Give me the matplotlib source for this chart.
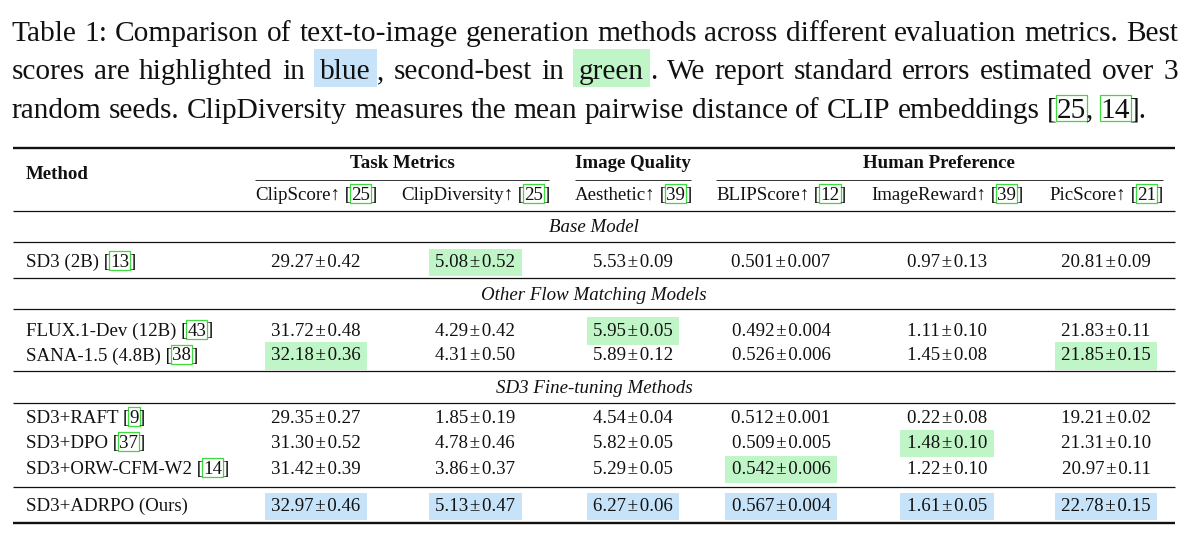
import matplotlib
matplotlib.use("Agg")
import matplotlib.pyplot as plt
from matplotlib.patches import Rectangle

SERIF = ["Liberation Serif", "DejaVu Serif"]
BLUE = "#c6e3fa"
GREEN = "#c0f5c8"
LINK = "#3cdc3c"
INK = "#111111"

# ---- data ----
caption_1 = "Table 1: Comparison of text-to-image generation methods across different evaluation metrics. Best"
caption_2a = "scores are highlighted in"
caption_2b = "second-best in"
caption_2c = "We report standard errors estimated over 3"
caption_3 = "random seeds. ClipDiversity measures the mean pairwise distance of CLIP embeddings"
caption_cites = ["25", "14"]

group_names = ["Task Metrics", "Image Quality", "Human Preference"]
group_cols = [(0, 1), (2, 2), (3, 5)]
metric_names = ["ClipScore\u2191", "ClipDiversity\u2191", "Aesthetic\u2191",
                "BLIPScore\u2191", "ImageReward\u2191", "PicScore\u2191"]
metric_cites = ["25", "25", "39", "12", "39", "21"]
metric_decimals = [2, 2, 2, 3, 2, 2]

section_names = ["Base Model", "Other Flow Matching Models", "SD3 Fine-tuning Methods"]
methods = ["SD3 (2B)", "FLUX.1-Dev (12B)", "SANA-1.5 (4.8B)", "SD3+RAFT",
           "SD3+DPO", "SD3+ORW-CFM-W2", "SD3+ADRPO (Ours)"]
method_cites = ["13", "43", "38", "9", "37", "14", None]
means = [
    [29.27, 5.08, 5.53, 0.501, 0.97, 20.81],
    [31.72, 4.29, 5.95, 0.492, 1.11, 21.83],
    [32.18, 4.31, 5.89, 0.526, 1.45, 21.85],
    [29.35, 1.85, 4.54, 0.512, 0.22, 19.21],
    [31.30, 4.78, 5.82, 0.509, 1.48, 21.31],
    [31.42, 3.86, 5.29, 0.542, 1.22, 20.97],
    [32.97, 5.13, 6.27, 0.567, 1.61, 22.78],
]
errs = [
    [0.42, 0.52, 0.09, 0.007, 0.13, 0.09],
    [0.48, 0.42, 0.05, 0.004, 0.10, 0.11],
    [0.36, 0.50, 0.12, 0.006, 0.08, 0.15],
    [0.27, 0.19, 0.04, 0.001, 0.08, 0.02],
    [0.52, 0.46, 0.05, 0.005, 0.10, 0.10],
    [0.39, 0.37, 0.05, 0.006, 0.10, 0.11],
    [0.46, 0.47, 0.06, 0.004, 0.05, 0.15],
]

# ---- layout (pixels) ----
CAP_SIZE = 21.2
TAB_SIZE = 13.6
cap_left, cap_right = 11.5, 1178
cap_base = [40.7, 79.3, 117.5]
tab_left, tab_right = 13.3, 1175
method_x = 26
col_x = [316, 475, 633, 781, 947, 1106]
group_base, cmid_y, sub_base, method_base = 168, 179.5, 200, 179
section_base = [232, 299.5, 393]
row_base = [267, 335.5, 360.5, 423, 448, 474, 511]
thin_rules = [210.7, 241.7, 277.7, 309.3, 370.7, 402.7, 486.7]
thick_rules = [147.5, 523.3]

fig = plt.figure(figsize=(12, 5.5), dpi=100)
ax = fig.add_axes([0, 0, 1, 1])
ax.set_xlim(0, 1200)
ax.set_ylim(550, 0)
ax.axis("off")
renderer = fig.canvas.get_renderer()


def width(s, size, **kw):
    t = ax.text(0, 0, s, fontsize=size, family=SERIF, **kw)
    w = t.get_window_extent(renderer).width
    t.remove()
    return w


def run_width(runs, size, pad, **kw):
    total = 0
    for s, kind in runs:
        total += width(s, size, **kw)
        if kind in ("blue", "green"):
            total += 2 * pad
    return total


def draw_runs(x, y, runs, size, pad, box, cbox, **kw):
    # box = (above, below) baseline for fills, cbox for link frames
    for s, kind in runs:
        w = width(s, size, **kw)
        if kind in ("blue", "green"):
            ax.add_patch(Rectangle((x, y - box[0]), w + 2 * pad, box[0] + box[1],
                                   color=BLUE if kind == "blue" else GREEN, lw=0, zorder=1))
            x += pad
        ax.text(x, y, s, fontsize=size, family=SERIF, color=INK, va="baseline",
                ha="left", zorder=3, **kw)
        if kind == "cite":
            ax.add_patch(Rectangle((x - 1, y - cbox[0]), w + 2, cbox[0] + cbox[1],
                                   fill=False, ec=LINK, lw=0.9, zorder=2))
        x += w
        if kind in ("blue", "green"):
            x += pad
    return x


def cited(s, num):
    if num is None:
        return [(s, "txt")]
    return [(s + " [", "txt"), (num, "cite"), ("]", "txt")]


# ---- caption ----
def justify(words, y, size):
    ws = [run_width(r, size, 6) for r in words]
    gap = (cap_right - cap_left - sum(ws)) / (len(words) - 1)
    x = cap_left
    for r, w in zip(words, ws):
        draw_runs(x, y, r, size, 6, (30, 8), (23, 3))
        x += w + gap


line1 = [[(w, "txt")] for w in caption_1.split()]
line2 = ([[(w, "txt")] for w in caption_2a.split()]
         + [[("blue", "blue"), (",", "txt")]]
         + [[(w, "txt")] for w in caption_2b.split()]
         + [[("green", "green"), (".", "txt")]]
         + [[(w, "txt")] for w in caption_2c.split()])
justify(line1, cap_base[0], CAP_SIZE)
justify(line2, cap_base[1], CAP_SIZE)

line3 = ([[(w, "txt")] for w in caption_3.split()]
         + [[("[", "txt"), (caption_cites[0], "cite"), (",", "txt")],
            [(caption_cites[1], "cite"), ("].", "txt")]])
space = width("a a", CAP_SIZE) - width("aa", CAP_SIZE)
x = cap_left
for r in line3:
    x = draw_runs(x, cap_base[2], r, CAP_SIZE, 6, (30, 8), (23, 3)) + space

# ---- rules ----
for y in thick_rules:
    ax.plot([tab_left, tab_right], [y, y], color=INK, lw=1.7, solid_capstyle="butt")
for y in thin_rules:
    ax.plot([tab_left, tab_right], [y, y], color=INK, lw=0.9, solid_capstyle="butt")

# ---- header ----
ax.text(method_x, method_base, "Method", fontsize=TAB_SIZE, family=SERIF,
        fontweight="bold", va="baseline", color=INK)
sub_runs = [[(n, "txt"), (" [", "txt"), (c, "cite"), ("]", "txt")]
            for n, c in zip(metric_names, metric_cites)]
sub_w = [run_width(r, TAB_SIZE, 0) for r in sub_runs]
for cx, r, w in zip(col_x, sub_runs, sub_w):
    draw_runs(cx - w / 2, sub_base, r, TAB_SIZE, 0, (0, 0), (16, 3))
for name, (a, b) in zip(group_names, group_cols):
    x0 = col_x[a] - sub_w[a] / 2
    x1 = col_x[b] + sub_w[b] / 2
    ax.plot([x0, x1], [cmid_y, cmid_y], color=INK, lw=0.6, solid_capstyle="butt")
    ax.text((x0 + x1) / 2, group_base, name, fontsize=TAB_SIZE, family=SERIF,
            fontweight="bold", ha="center", va="baseline", color=INK)

for name, y in zip(section_names, section_base):
    ax.text((tab_left + tab_right) / 2, y, name, fontsize=TAB_SIZE, family=SERIF,
            fontstyle="italic", ha="center", va="baseline", color=INK)

# ---- body ----
n_cols = len(metric_names)
ranked = []
for j in range(n_cols):
    col = sorted({row[j] for row in means}, reverse=True)
    ranked.append(col[:2])

PM = "\u200a\u00b1\u200a"
for i, (m, c) in enumerate(zip(methods, method_cites)):
    y = row_base[i]
    draw_runs(method_x, y, cited(m, c), TAB_SIZE, 0, (0, 0), (16, 3))
    for j in range(n_cols):
        d = metric_decimals[j]
        s = f"{means[i][j]:.{d}f}{PM}{errs[i][j]:.{d}f}"
        kind = "txt"
        if means[i][j] == ranked[j][0]:
            kind = "blue"
        elif means[i][j] == ranked[j][1]:
            kind = "green"
        pad = 6.5 if kind != "txt" else 0
        w = run_width([(s, kind)], TAB_SIZE, pad)
        draw_runs(col_x[j] - w / 2, y, [(s, kind)], TAB_SIZE, pad, (18.5, 9), (16, 3))

fig.savefig("out.png", dpi=100, facecolor="white")
